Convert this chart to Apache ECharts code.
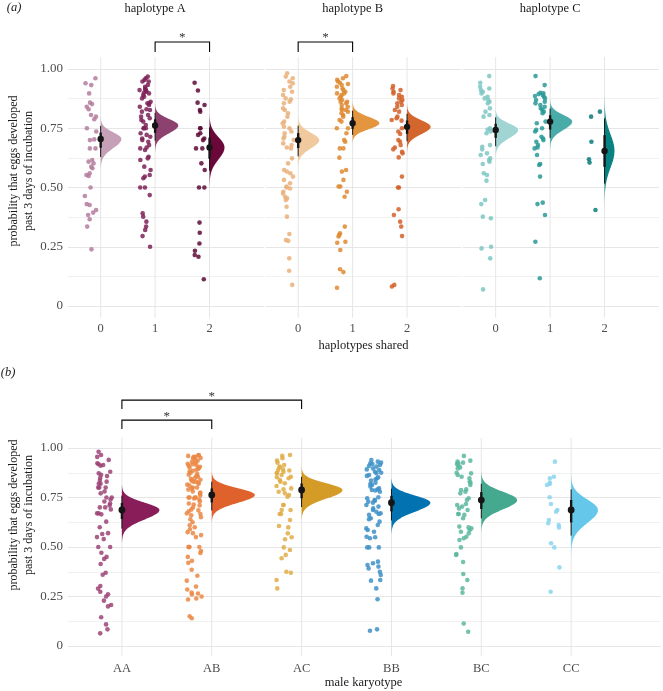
<!DOCTYPE html>
<html><head><meta charset="utf-8">
<script src="https://cdn.jsdelivr.net/npm/echarts@6/dist/echarts.min.js"></script>
<style>html,body{margin:0;padding:0;background:#fff}#c{width:663px;height:691px}</style>
</head><body><div id="c"></div>
<script>
// ================= DATA =================
const facetNames = ['haplotype A', 'haplotype B', 'haplotype C'];
const sharedLabels = ['0', '1', '2'];
const yTickValues = [0, 0.25, 0.5, 0.75, 1];

// observed probabilities, panel (a): haplotype facet x haplotypes shared
const hapA0 = [0.961,0.94,0.932,0.897,0.858,0.852,0.841,0.83,0.806,0.799,0.788,0.75,0.736,0.703,0.70,0.665,0.665,0.616,0.609,0.602,0.588,0.581,0.56,0.553,0.549,0.50,0.464,0.43,0.426,0.405,0.394,0.384,0.366,0.335,0.239];
const hapA1 = [0.968,0.961,0.954,0.947,0.947,0.933,0.925,0.918,0.914,0.911,0.909,0.904,0.90,0.897,0.89,0.883,0.876,0.862,0.855,0.855,0.848,0.841,0.83,0.827,0.82,0.806,0.799,0.792,0.785,0.778,0.764,0.75,0.75,0.75,0.729,0.722,0.714,0.707,0.70,0.693,0.679,0.669,0.665,0.658,0.63,0.623,0.616,0.588,0.574,0.553,0.546,0.539,0.50,0.50,0.468,0.391,0.377,0.356,0.335,0.321,0.295,0.25];
const hapA2 = [0.942,0.909,0.858,0.848,0.827,0.82,0.75,0.75,0.729,0.722,0.707,0.70,0.665,0.665,0.602,0.574,0.50,0.50,0.352,0.309,0.264,0.233,0.215,0.208,0.113];
const hapB0 = [0.982,0.968,0.961,0.947,0.94,0.925,0.911,0.904,0.89,0.876,0.872,0.862,0.855,0.834,0.827,0.813,0.799,0.778,0.771,0.757,0.75,0.736,0.729,0.714,0.707,0.70,0.686,0.679,0.669,0.665,0.623,0.602,0.574,0.567,0.56,0.546,0.532,0.518,0.504,0.50,0.496,0.482,0.475,0.461,0.454,0.447,0.419,0.377,0.304,0.278,0.275,0.201,0.149,0.089];
const hapB1 = [0.97,0.961,0.954,0.947,0.942,0.937,0.932,0.925,0.918,0.911,0.904,0.897,0.897,0.89,0.883,0.876,0.869,0.862,0.862,0.855,0.848,0.841,0.834,0.827,0.827,0.82,0.813,0.806,0.799,0.785,0.778,0.75,0.75,0.729,0.70,0.693,0.665,0.665,0.626,0.574,0.567,0.532,0.504,0.504,0.482,0.461,0.335,0.307,0.30,0.293,0.271,0.267,0.236,0.155,0.143,0.077];
const hapB2 = [0.928,0.918,0.911,0.904,0.897,0.89,0.883,0.876,0.869,0.862,0.855,0.848,0.841,0.827,0.82,0.799,0.792,0.785,0.782,0.75,0.736,0.726,0.70,0.693,0.679,0.669,0.661,0.651,0.644,0.627,0.546,0.50,0.50,0.408,0.384,0.356,0.335,0.295,0.089,0.082];
const hapC0 = [0.97,0.942,0.925,0.918,0.911,0.904,0.897,0.883,0.876,0.869,0.862,0.855,0.834,0.82,0.806,0.799,0.75,0.745,0.736,0.729,0.679,0.672,0.661,0.644,0.637,0.623,0.616,0.609,0.599,0.56,0.553,0.529,0.447,0.43,0.377,0.37,0.25,0.243,0.201,0.07];
const hapC1 = [0.97,0.932,0.90,0.897,0.894,0.89,0.886,0.883,0.876,0.869,0.862,0.855,0.848,0.841,0.834,0.827,0.82,0.813,0.778,0.771,0.75,0.743,0.736,0.714,0.707,0.70,0.693,0.679,0.669,0.665,0.637,0.599,0.595,0.546,0.436,0.43,0.384,0.271,0.117];
const hapC2 = [0.82,0.799,0.693,0.619,0.605,0.405];

// posterior summaries (mean, lower / upper spread) per facet x level
const hapMean = [[0.705, 0.762, 0.669], [0.700, 0.771, 0.756], [0.743, 0.778, 0.654]];
const hapSdLo = [[0.039, 0.033, 0.050], [0.035, 0.025, 0.031], [0.035, 0.035, 0.070]];
const hapSdHi = [[0.028, 0.027, 0.043], [0.031, 0.027, 0.028], [0.027, 0.028, 0.070]];
// significant comparisons: [facet, level from, level to]
const hapSig = [[0, 1, 2], [1, 0, 1]];

// panel (b): male karyotype
const karyotypes = ['AA', 'AB', 'AC', 'BB', 'BC', 'CC'];
const karAA = [0.981,0.965,0.955,0.94,0.923,0.918,0.914,0.91,0.88,0.872,0.865,0.858,0.85,0.838,0.83,0.82,0.82,0.80,0.80,0.80,0.78,0.771,0.75,0.75,0.74,0.73,0.72,0.71,0.70,0.70,0.69,0.67,0.67,0.665,0.628,0.60,0.57,0.566,0.55,0.54,0.50,0.50,0.471,0.45,0.44,0.414,0.37,0.36,0.303,0.29,0.274,0.261,0.25,0.229,0.207,0.20,0.145,0.109,0.084,0.064];
const karAB = [0.965,0.963,0.96,0.955,0.955,0.95,0.948,0.94,0.935,0.93,0.925,0.92,0.918,0.915,0.91,0.905,0.90,0.90,0.895,0.89,0.885,0.88,0.875,0.87,0.865,0.86,0.855,0.85,0.845,0.84,0.835,0.83,0.83,0.825,0.82,0.815,0.81,0.80,0.80,0.795,0.79,0.78,0.775,0.77,0.76,0.75,0.75,0.75,0.75,0.745,0.74,0.73,0.72,0.715,0.71,0.70,0.69,0.685,0.68,0.67,0.667,0.66,0.65,0.64,0.625,0.61,0.60,0.59,0.575,0.57,0.56,0.55,0.50,0.50,0.50,0.50,0.48,0.47,0.45,0.43,0.42,0.385,0.355,0.33,0.30,0.285,0.27,0.265,0.26,0.25,0.24,0.235,0.15,0.14];
const karAC = [0.965,0.96,0.948,0.936,0.926,0.914,0.906,0.902,0.892,0.889,0.886,0.88,0.875,0.872,0.864,0.855,0.852,0.847,0.838,0.83,0.822,0.808,0.796,0.791,0.779,0.771,0.763,0.754,0.712,0.712,0.687,0.687,0.667,0.667,0.636,0.606,0.599,0.569,0.549,0.539,0.498,0.485,0.46,0.443,0.375,0.37,0.333,0.291];
const karBB = [0.939,0.931,0.926,0.923,0.919,0.914,0.909,0.906,0.897,0.892,0.889,0.88,0.875,0.872,0.864,0.859,0.852,0.847,0.842,0.835,0.825,0.818,0.813,0.805,0.796,0.791,0.788,0.785,0.779,0.751,0.746,0.737,0.734,0.729,0.724,0.712,0.704,0.695,0.687,0.678,0.67,0.667,0.662,0.645,0.64,0.628,0.611,0.594,0.586,0.577,0.552,0.549,0.544,0.498,0.498,0.498,0.426,0.418,0.409,0.401,0.392,0.375,0.359,0.333,0.33,0.291,0.236,0.084,0.077];
const karBC = [0.96,0.936,0.931,0.926,0.923,0.919,0.909,0.902,0.897,0.875,0.872,0.864,0.855,0.847,0.83,0.825,0.813,0.791,0.788,0.779,0.771,0.746,0.737,0.717,0.712,0.704,0.695,0.687,0.667,0.667,0.662,0.645,0.603,0.599,0.594,0.586,0.577,0.569,0.552,0.544,0.535,0.498,0.465,0.46,0.424,0.364,0.333,0.291,0.269,0.114,0.072];
const karCC = [0.931,0.855,0.847,0.825,0.818,0.813,0.751,0.717,0.687,0.678,0.636,0.62,0.611,0.599,0.519,0.498,0.397,0.274];

const karMean = [0.687, 0.763, 0.788, 0.724, 0.737, 0.687];
const karSdLo = [0.048, 0.040, 0.044, 0.046, 0.047, 0.066];
const karSdHi = [0.037, 0.034, 0.034, 0.036, 0.042, 0.053];
// significant comparisons: [from, to] (stacked upward in order)
const karSig = [[0, 1], [0, 2]];

// ================= STYLE =================
const FONT = '"Liberation Serif", "Times New Roman", serif';
const hapPointColors = [['#b47b9c', '#7c2257', '#5e0a36'], ['#eab07a', '#df8a30', '#d2622a'], ['#7cc7c3', '#2a9a96', '#0a7b7b']];
const hapSlabColors  = [['#c6a0b7', '#8d416e', '#6a0839'], ['#f1c99f', '#e3963f', '#d2662c'], ['#a0d5d3', '#4aaca8', '#088282']];
const karPointColors = ['#9c4377', '#eb8744', '#dfad46', '#3d91c8', '#5cb79f', '#8bd4ee'];
const karSlabColors  = ['#891d5a', '#df622c', '#d59b27', '#0272b1', '#45a98f', '#65c8ea'];

const hapPoints = [[hapA0, hapA1, hapA2], [hapB0, hapB1, hapB2], [hapC0, hapC1, hapC2]];
const karPoints = [karAA, karAB, karAC, karBB, karBC, karCC];

function jit(i, seed) {
  const s = Math.sin((i + 1) * 12.9898 + seed * 78.233) * 43758.5453;
  return s - Math.floor(s);
}

function gridlineRender(params, api) {
  const x = api.value(0);
  const a = api.coord([x, -0.05]), b = api.coord([x, 1.05]);
  return { type: 'line', shape: { x1: a[0], y1: a[1], x2: b[0], y2: b[1] }, style: { stroke: '#e6e6e6', lineWidth: 1 } };
}

function slabRender(scale, colors) {
  return function (params, api) {
    const x0 = api.value(0), m = api.value(1), sLo = api.value(2), sHi = api.value(3);
    const peak = 2 / (Math.sqrt(2 * Math.PI) * (sLo + sHi));
    const pts = [api.coord([x0, m - 3.4 * sLo])];
    const N = 120;
    for (let i = 0; i <= N; i++) {
      const t = -3.4 + 6.8 * i / N;
      const s = t < 0 ? sLo : sHi;
      const d = scale * peak * Math.exp(-t * t / 2);
      pts.push(api.coord([x0 + d, m + t * s]));
    }
    pts.push(api.coord([x0, m + 3.4 * sHi]));
    return { type: 'polygon', shape: { points: pts }, style: { fill: colors[params.dataIndex] } };
  };
}

function intervalRender(r) {
  return function (params, api) {
    const x = api.value(0), m = api.value(1), sLo = api.value(2), sHi = api.value(3);
    const a95 = api.coord([x, m - 1.96 * sLo]), b95 = api.coord([x, m + 1.96 * sHi]);
    const a66 = api.coord([x, m - 0.954 * sLo]), b66 = api.coord([x, m + 0.954 * sHi]);
    const c = api.coord([x, m]);
    return { type: 'group', children: [
      { type: 'line', shape: { x1: a95[0], y1: a95[1], x2: b95[0], y2: b95[1] }, style: { stroke: '#151515', lineWidth: 1 } },
      { type: 'line', shape: { x1: a66[0], y1: a66[1], x2: b66[0], y2: b66[1] }, style: { stroke: '#151515', lineWidth: 2.4 } },
      { type: 'circle', shape: { cx: c[0], cy: c[1], r: r }, style: { fill: '#151515' } }
    ] };
  };
}

function bracketRender(legLow, legHigh, step) {
  return function (params, api) {
    const a = api.value(0), b = api.value(1), tier = api.value(2);
    const lo = legLow + tier * step, hi = legHigh + tier * step;
    const p1 = api.coord([a, lo]), p2 = api.coord([a, hi]), p3 = api.coord([b, hi]), p4 = api.coord([b, lo]);
    return { type: 'group', children: [
      { type: 'polyline', shape: { points: [p1, p2, p3, p4] }, style: { stroke: '#000', lineWidth: 1.1, fill: null } },
      { type: 'text', style: { text: '*', x: (p2[0] + p3[0]) / 2, y: p2[1] - 4, align: 'center', verticalAlign: 'middle',
        textAlign: 'center', textVerticalAlign: 'middle', fontSize: 13, fontFamily: FONT, fill: '#333' } }
    ] };
  };
}

const tickLabelStyle = { color: '#4d4d4d', fontFamily: FONT, fontSize: 12.5 };

function yAxisCfg(gridIndex, showLabels) {
  return {
    type: 'value', gridIndex, min: yTickValues[0], max: yTickValues[yTickValues.length - 1],
    interval: yTickValues[1] - yTickValues[0],
    axisLine: { show: false }, axisTick: { show: false },
    axisLabel: Object.assign({ show: showLabels, margin: 5, fontSize: 13,
      formatter: v => (v === 0 ? '0' : v.toFixed(2)) }, { color: '#4d4d4d', fontFamily: FONT }),
    splitLine: { show: true, lineStyle: { color: '#e6e6e6', width: 1 } },
    minorTick: { show: false, splitNumber: 2 },
    minorSplitLine: { show: true, lineStyle: { color: '#f1f1f1', width: 1 } }
  };
}

function xAxisCfg(gridIndex, max, labels) {
  return {
    type: 'value', gridIndex, min: -0.6, max: max,
    axisLine: { show: false }, axisTick: { show: false }, splitLine: { show: false },
    axisLabel: Object.assign({ customValues: labels.map((_, i) => i), margin: 16,
      formatter: v => labels[Math.round(v)] }, tickLabelStyle)
  };
}

const grids = [], xAxes = [], yAxes = [], series = [];
const facetLeft = [68, 265.5, 463];
facetNames.forEach((name, f) => {
  grids.push({ left: facetLeft[f], top: 69, width: 196, height: 237, outerBoundsMode: 'none' });
  xAxes.push(xAxisCfg(f, 3.0, sharedLabels));
  yAxes.push(yAxisCfg(f, f === 0));
  series.push({ type: 'custom', xAxisIndex: f, yAxisIndex: f, z: 1, silent: true, clip: false,
    renderItem: gridlineRender, data: sharedLabels.map((_, i) => [i]) });
  sharedLabels.forEach((lab, l) => {
    series.push({ type: 'scatter', xAxisIndex: f, yAxisIndex: f, z: 3, silent: true, symbolSize: 4.6,
      itemStyle: { color: hapPointColors[f][l], opacity: 0.85 },
      data: hapPoints[f][l].map((v, j) => [l - 0.185 + 0.105 * (2 * jit(j, f * 3 + l) - 1), v]) });
  });
  const summ = sharedLabels.map((_, l) => [l, hapMean[f][l], hapSdLo[f][l], hapSdHi[f][l]]);
  series.push({ type: 'custom', xAxisIndex: f, yAxisIndex: f, z: 2, silent: true, clip: false,
    renderItem: slabRender(0.032, hapSlabColors[f]), data: summ });
  series.push({ type: 'custom', xAxisIndex: f, yAxisIndex: f, z: 4, silent: true, clip: false,
    renderItem: intervalRender(3.2), data: summ });
  const sig = hapSig.filter(s => s[0] === f).map(s => [s[1], s[2], 0]);
  if (sig.length) {
    series.push({ type: 'custom', xAxisIndex: f, yAxisIndex: f, z: 5, silent: true, clip: false,
      renderItem: bracketRender(1.072, 1.114, 0.1), data: sig });
  }
});

// panel (b)
const gb = 3;
grids.push({ left: 68, top: 448, width: 593, height: 198, outerBoundsMode: 'none' });
xAxes.push(xAxisCfg(gb, 6.0, karyotypes));
yAxes.push(yAxisCfg(gb, true));
series.push({ type: 'custom', xAxisIndex: gb, yAxisIndex: gb, z: 1, silent: true, clip: false,
  renderItem: gridlineRender, data: karyotypes.map((_, i) => [i]) });
karyotypes.forEach((k, i) => {
  series.push({ type: 'scatter', xAxisIndex: gb, yAxisIndex: gb, z: 3, silent: true, symbolSize: 4.6,
    itemStyle: { color: karPointColors[i], opacity: 0.85 },
    data: karPoints[i].map((v, j) => [i - 0.195 + 0.085 * (2 * jit(j, 20 + i) - 1), v]) });
});
const karSumm = karyotypes.map((_, i) => [i, karMean[i], karSdLo[i], karSdHi[i]]);
series.push({ type: 'custom', xAxisIndex: gb, yAxisIndex: gb, z: 2, silent: true, clip: false,
  renderItem: slabRender(0.0445, karSlabColors), data: karSumm });
series.push({ type: 'custom', xAxisIndex: gb, yAxisIndex: gb, z: 4, silent: true, clip: false,
  renderItem: intervalRender(3.4), data: karSumm });
series.push({ type: 'custom', xAxisIndex: gb, yAxisIndex: gb, z: 5, silent: true, clip: false,
  renderItem: bracketRender(1.096, 1.141, 0.101), data: karSig.map((s, t) => [s[0], s[1], t]) });

const chart = echarts.init(document.getElementById('c'), null, { renderer: 'canvas' });
chart.setOption({
  animation: false, backgroundColor: '#fff',
  grid: grids, xAxis: xAxes, yAxis: yAxes, series: series
});

// text annotations (positions from the axes where they relate to data)
function txt(text, x, y, opts) {
  opts = opts || {};
  return { type: 'text', x: x, y: y, rotation: opts.rot || 0, silent: true, z: 10,
    style: { text: text, fill: opts.fill || '#1a1a1a',
      font: (opts.italic ? 'italic ' : '') + (opts.size || 12.5) + 'px ' + FONT,
      align: 'center', verticalAlign: 'middle', textAlign: 'center', textVerticalAlign: 'middle' } };
}
const gfx = [];
facetNames.forEach((name, f) => {
  const px = chart.convertToPixel({ xAxisIndex: f, yAxisIndex: f }, [1, 0]);
  gfx.push(txt(name, px[0], 9, { size: 12.5 }));
});
gfx.push(txt('(a)', 14, 8, { italic: true, size: 12.5 }));
gfx.push(txt('(b)', 8, 373, { italic: true, size: 12.5 }));
gfx.push(txt('probability that eggs developed', 14, 171, { rot: Math.PI / 2, size: 12 }));
gfx.push(txt('past 3 days of incubation', 28.5, 171, { rot: Math.PI / 2, size: 12 }));
gfx.push(txt('probability that eggs developed', 14, 515, { rot: Math.PI / 2, size: 12 }));
gfx.push(txt('past 3 days of incubation', 28.5, 515, { rot: Math.PI / 2, size: 12 }));
gfx.push(txt('haplotypes shared', 363.5, 346, { size: 12.5 }));
gfx.push(txt('male karyotype', 363.5, 683, { size: 12.5 }));
chart.setOption({ graphic: gfx });
</script>
</body></html>
